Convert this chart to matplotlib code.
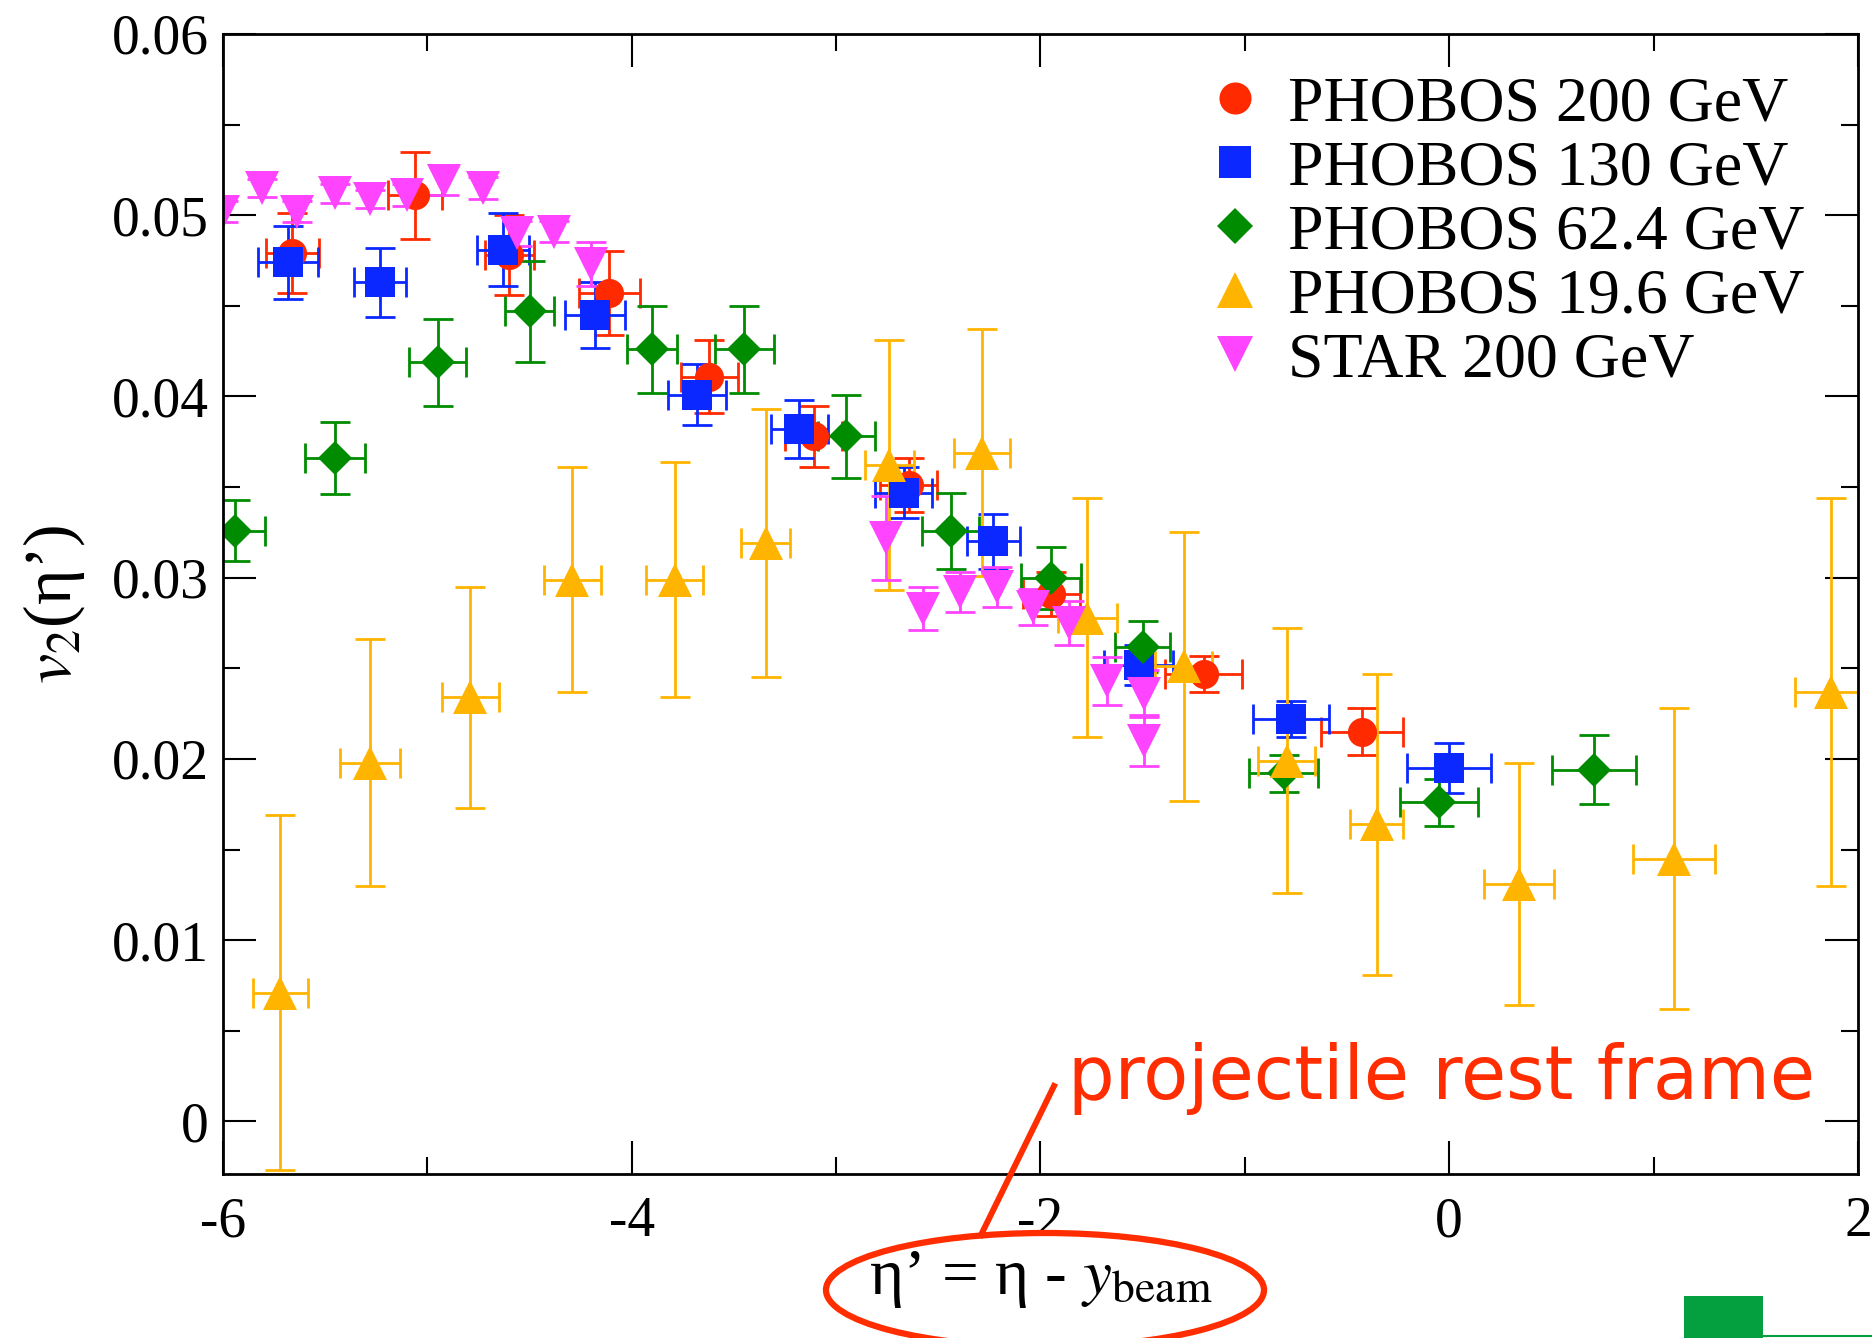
import matplotlib
matplotlib.use('Agg')
import matplotlib.pyplot as plt
from matplotlib.lines import Line2D
from matplotlib.patches import Ellipse, Rectangle
from matplotlib.ticker import MultipleLocator, FuncFormatter

plt.rcParams['font.family'] = ['Liberation Serif', 'DejaVu Serif']
plt.rcParams['mathtext.fontset'] = 'stix'
plt.rcParams['axes.unicode_minus'] = False

# PHOBOS 200 GeV
x_200 = [-5.66, -5.06, -4.60, -4.11, -3.62, -3.11, -2.645, -1.946, -1.202, -0.428]
y_200 = [0.0479, 0.0511, 0.0478, 0.0457, 0.0411, 0.0378, 0.0351, 0.0291, 0.0247, 0.0215]
xerr_200 = [0.13, 0.13, 0.12, 0.15, 0.14, 0.14, 0.14, 0.14, 0.19, 0.20]
yerr_200 = [0.0022, 0.0024, 0.0022, 0.0023, 0.0020, 0.0017, 0.0015, 0.0012, 0.0010, 0.0013]

# PHOBOS 130 GeV
x_130 = [-5.68, -5.23, -4.63, -4.18, -3.68, -3.18, -2.67, -2.23, -1.52, -0.775, 0.0]
y_130 = [0.0474, 0.0463, 0.0481, 0.0445, 0.0401, 0.0382, 0.0347, 0.0320, 0.0252, 0.0222, 0.0195]
xerr_130 = [0.147, 0.128, 0.128, 0.145, 0.142, 0.139, 0.14, 0.131, 0.17, 0.187, 0.205]
yerr_130 = [0.0020, 0.0019, 0.0020, 0.0018, 0.0017, 0.0016, 0.0014, 0.0015, 0.0011, 0.0010, 0.0014]

# PHOBOS 62.4 GeV
x_62 = [-5.94, -5.45, -4.95, -4.50, -3.90, -3.45, -2.95, -2.44, -1.95, -1.50, -0.81, -0.05, 0.71]
y_62 = [0.0326, 0.0366, 0.0419, 0.0447, 0.0426, 0.0426, 0.0378, 0.0326, 0.0300, 0.0262, 0.0192, 0.0176, 0.0194]
xerr_62 = [0.146, 0.147, 0.14, 0.12, 0.124, 0.144, 0.14, 0.14, 0.146, 0.133, 0.17, 0.19, 0.206]
yerr_62 = [0.0017, 0.0020, 0.0024, 0.0028, 0.0024, 0.0024, 0.0023, 0.0021, 0.0017, 0.0014, 0.0010, 0.0013, 0.0019]

# PHOBOS 19.6 GeV
x_19 = [-5.72, -5.28, -4.79, -4.29, -3.79, -3.345, -2.74, -2.285, -1.77, -1.30, -0.796, -0.355, 0.342, 1.10, 1.87]
y_19 = [0.0071, 0.0198, 0.0234, 0.0299, 0.0299, 0.0319, 0.0362, 0.0369, 0.0278, 0.0251, 0.0199, 0.0164, 0.0131, 0.0145, 0.0237]
xerr_19 = [0.134, 0.147, 0.14, 0.139, 0.14, 0.12, 0.12, 0.136, 0.145, 0.14, 0.14, 0.13, 0.17, 0.2, 0.18]
yerr_19 = [0.0098, 0.0068, 0.0061, 0.0062, 0.0065, 0.0074, 0.0069, 0.0068, 0.0066, 0.0074, 0.0073, 0.0083, 0.0067, 0.0083, 0.0107]

# STAR 200 GeV (alleen y-fouten)
x_star = [-6.0, -5.81, -5.64, -5.45, -5.28, -5.10, -4.92, -4.73, -4.56, -4.38, -4.20,
          -2.755, -2.573, -2.394, -2.214, -2.038, -1.858, -1.672, -1.491, -1.491]
y_star = [0.0502, 0.0515, 0.0502, 0.0512, 0.0509, 0.0511, 0.0519, 0.0515, 0.0490, 0.0491, 0.0473,
          0.0322, 0.0283, 0.0292, 0.0295, 0.0284, 0.0275, 0.0243, 0.0236, 0.0210]
yerr_star = [0.0006, 0.0005, 0.0006, 0.0005, 0.0005, 0.0006, 0.0008, 0.0006, 0.0007, 0.0006, 0.0012,
             0.0023, 0.0012, 0.0011, 0.0011, 0.0010, 0.0012, 0.0013, 0.0013, 0.0014]

labels = ['PHOBOS 200 GeV', 'PHOBOS 130 GeV', 'PHOBOS 62.4 GeV', 'PHOBOS 19.6 GeV', 'STAR 200 GeV']
kleuren = ['#ff2a00', '#0a28ff', '#008c00', '#ffb400', '#ff44ff']
markers = ['o', 's', 'D', '^', 'v']
maten = [21, 21, 17, 24, 24]

reeksen = [
    (x_200, y_200, xerr_200, yerr_200),
    (x_130, y_130, xerr_130, yerr_130),
    (x_62, y_62, xerr_62, yerr_62),
    (x_19, y_19, xerr_19, yerr_19),
    (x_star, y_star, None, yerr_star),
]

fig = plt.figure(figsize=(18.72, 13.38), dpi=100)
ax = fig.add_axes([0.1191, 0.1226, 0.8734, 0.852])

handles = []
for (x, y, xe, ye), kleur, m, ms, lab in zip(reeksen, kleuren, markers, maten, labels):
    cont = ax.errorbar(x, y, xerr=xe, yerr=ye, fmt=m, color=kleur, ms=ms,
                       elinewidth=2, capsize=11, capthick=2)
    cont[0].set_markeredgewidth(0)
    handles.append(Line2D([], [], linestyle='none', marker=m, color=kleur, ms=ms * 1.1, mew=0, label=lab))

ax.set_xlim(-6, 2)
ax.set_ylim(-0.0029, 0.06)
ax.xaxis.set_major_locator(MultipleLocator(2))
ax.xaxis.set_minor_locator(MultipleLocator(1))
ax.yaxis.set_major_locator(MultipleLocator(0.01))
ax.yaxis.set_minor_locator(MultipleLocator(0.005))
fmt = FuncFormatter(lambda v, p: '%g' % round(v, 4))
ax.xaxis.set_major_formatter(fmt)
ax.yaxis.set_major_formatter(fmt)

ax.tick_params(which='both', direction='in', top=True, right=True, width=1.5, labelsize=40)
ax.tick_params(which='major', length=24)
ax.tick_params(which='minor', length=12)
ax.tick_params(axis='y', pad=10)
ax.tick_params(axis='x', pad=16)
for sp in ax.spines.values():
    sp.set_linewidth(2)

ax.set_ylabel('$v_2$(η’)', fontsize=49)
ax.yaxis.set_label_coords(-0.083, 0.5)
ax.set_xlabel('η’ = η - $y_{\\mathrm{beam}}$', fontsize=47)
ax.xaxis.set_label_coords(0.5, -0.066)
ax.xaxis.label.set_va('top')

fig.legend(handles=handles, loc='upper left', bbox_to_anchor=(1203 / 1872, 1 - 76 / 1338),
           bbox_transform=fig.transFigure, frameon=False, fontsize=46, numpoints=1,
           handlelength=1.0, handletextpad=0.33, labelspacing=0.08, borderpad=0, borderaxespad=0)

# rode annotatie
rood = '#ff2d00'
fig.text(1068 / 1872, 1 - 1099 / 1338, 'projectile rest frame', color=rood, fontsize=53,
         family='DejaVu Sans', ha='left', va='baseline')
fig.add_artist(Line2D([1054 / 1872, 981 / 1872], [1 - 1086 / 1338, 1 - 1235 / 1338],
                      transform=fig.transFigure, color=rood, lw=4.3))
fig.add_artist(Ellipse((1045 / 1872, 1 - 1290 / 1338), 438 / 1872, 114 / 1338,
                       transform=fig.transFigure, fill=False, edgecolor=rood, lw=4.5))

# groen blokje rechtsonder
groen = '#04a040'
fig.add_artist(Rectangle((1684 / 1872, 0), 79 / 1872, 42 / 1338, transform=fig.transFigure,
                         facecolor=groen, edgecolor='none'))
fig.add_artist(Line2D([1763 / 1872, 1.0], [2 / 1338, 2 / 1338], transform=fig.transFigure,
                      color=groen, lw=1.5))

fig.savefig('out.png', dpi=100)
plt.close()
